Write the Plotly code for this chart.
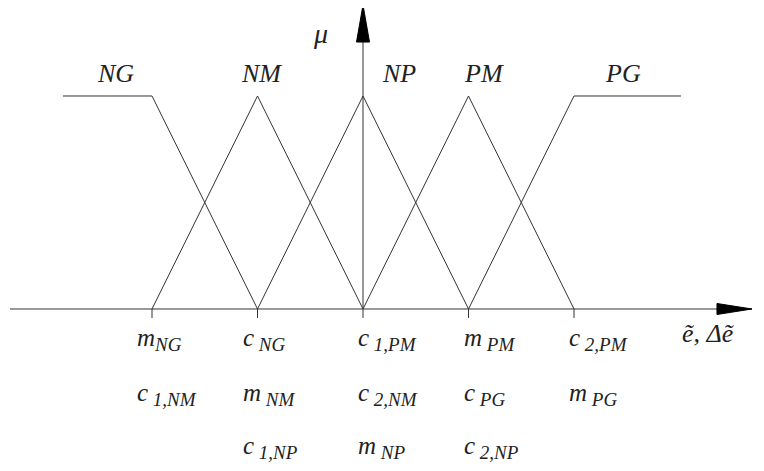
import plotly.graph_objects as go

# ---- data ----
breakpoints = [-2, -1, 0, 1, 2]
set_names = ["NG", "NM", "NP", "PM", "PG"]
set_x = [
    [-2.844, -2, -1],
    [-2, -1, 0],
    [-1, 0, 1],
    [0, 1, 2],
    [1, 2, 3.014],
]
set_y = [
    [1, 1, 0],
    [0, 1, 0],
    [0, 1, 0],
    [0, 1, 0],
    [0, 1, 1],
]
row1_main = ["m", "c", "c", "m", "c"]
row1_sub = ["NG", " NG", " 1,PM", " PM", " 2,PM"]
row2_main = ["c", "m", "c", "c", "m"]
row2_sub = [" 1,NM", " NM", " 2,NM", " PG", " PG"]
row3_main = ["", "c", "m", "c", ""]
row3_sub = ["", " 1,NP", " NP", " 2,NP", ""]
x_axis_extent = [-3.346, 3.687]
y_axis_top = 1.427
y_label = "μ"
x_label = "ẽ, Δẽ"

# ---- style ----
LINE = "#333333"
FONT = "Liberation Serif"
W, H = 756, 463   # page body margin of 8px places the plot at (8, 8)

fig = go.Figure()
for name, xs, ys in zip(set_names, set_x, set_y):
    fig.add_trace(go.Scatter(x=xs, y=ys, mode="lines", name=name,
                             line=dict(color=LINE, width=1), hoverinfo="skip"))

shapes = []
shapes.append(dict(type="line", x0=x_axis_extent[0], x1=x_axis_extent[1], y0=0, y1=0,
                   line=dict(color=LINE, width=1)))
shapes.append(dict(type="line", x0=0, x1=0, y0=0, y1=y_axis_top,
                   line=dict(color=LINE, width=1)))
shapes.append(dict(type="path", xsizemode="pixel", ysizemode="pixel",
                   xanchor=x_axis_extent[1], yanchor=0,
                   path="M 0 0 L -35 5.5 L -35 -5.5 Z",
                   fillcolor="black", line=dict(color="black", width=1)))
shapes.append(dict(type="path", xsizemode="pixel", ysizemode="pixel",
                   xanchor=0, yanchor=y_axis_top,
                   path="M 0 0 L 6.5 -37 L -6.5 -37 Z",
                   fillcolor="black", line=dict(color="black", width=1)))
for b in breakpoints:
    shapes.append(dict(type="line", ysizemode="pixel", yanchor=0, x0=b, x1=b, y0=0, y1=-9,
                       line=dict(color=LINE, width=1)))

annotations = []
top_x = [-2.42, -1, 0, 1, 2.507]
top_shift = [8, 4, 36, 15, -4]
for name, tx, sh in zip(set_names, top_x, top_shift):
    annotations.append(dict(x=tx, y=1, text="<i>%s</i>" % name, showarrow=False,
                            xshift=sh, yshift=22, xanchor="center", yanchor="middle",
                            font=dict(family=FONT, size=26, color="#222")))
annotations.append(dict(x=0, y=1, text="<i>%s</i>" % y_label, showarrow=False,
                        xshift=-43, yshift=62, font=dict(family=FONT, size=28, color="#222")))
annotations.append(dict(x=x_axis_extent[1], y=0, text="<i>%s</i>" % x_label, showarrow=False,
                        xanchor="left", xshift=-72, yshift=-25,
                        font=dict(family=FONT, size=26, color="#222")))

col_shift = [-17, -17, -7, -7, -7]
rows = [(row1_main, row1_sub, -31), (row2_main, row2_sub, -86), (row3_main, row3_sub, -139)]
for mains, subs, ys in rows:
    for b, m, s, cs in zip(breakpoints, mains, subs, col_shift):
        if not m:
            continue
        txt = '<i>%s<sub><span style="font-size:19px">%s</span></sub></i>' % (m, s)
        annotations.append(dict(x=b, y=0, text=txt, showarrow=False,
                                xanchor="left", yanchor="middle", xshift=cs, yshift=ys,
                                font=dict(family=FONT, size=25, color="#222")))

fig.update_layout(
    width=W, height=H, margin=dict(l=0, r=0, t=0, b=0),
    paper_bgcolor="white", plot_bgcolor="white", showlegend=False,
    xaxis=dict(range=[-3.3649, 3.8009], visible=False, fixedrange=True),
    yaxis=dict(range=[-0.7606, 1.4131], visible=False, fixedrange=True),
    shapes=shapes, annotations=annotations,
)
fig.write_html("out.html", config={"displayModeBar": False})
